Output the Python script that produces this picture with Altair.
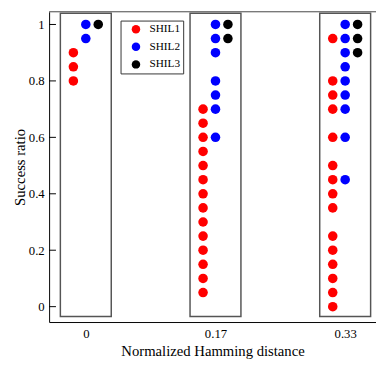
import altair as alt
import pandas as pd

categories = ["0", "0.17", "0.33"]
series_names = ["SHIL1", "SHIL2", "SHIL3"]
colors = ["#ff0000", "#0000ff", "#000000"]

# SHIL1 success ratios per Hamming distance
shil1_d0 = [0.9, 0.85, 0.8]
shil1_d017 = [0.7, 0.65, 0.6, 0.55, 0.5, 0.45, 0.4, 0.35, 0.3, 0.25, 0.2, 0.15, 0.1, 0.05]
shil1_d033 = [0.95, 0.8, 0.75, 0.7, 0.6, 0.5, 0.45, 0.4, 0.35, 0.25, 0.2, 0.15, 0.1, 0.05, 0.0]
# SHIL2
shil2_d0 = [1.0, 0.95]
shil2_d017 = [1.0, 0.95, 0.9, 0.8, 0.75, 0.7, 0.6]
shil2_d033 = [1.0, 0.95, 0.9, 0.85, 0.8, 0.75, 0.7, 0.6, 0.45]
# SHIL3
shil3_d0 = [1.0]
shil3_d017 = [1.0, 0.95]
shil3_d033 = [1.0, 0.95, 0.9]

y_ticks = [0, 0.2, 0.4, 0.6, 0.8, 1.0]

W, H = 334, 317
STEP = 132.5                 # pixels between groups
DOT_GAP = 12.7 / STEP        # series offset inside a group
BOX_HALF = 26 / STEP         # half width of the group boxes
series_offset = {"SHIL1": -DOT_GAP, "SHIL2": 0.0, "SHIL3": DOT_GAP}

groups = {
    "SHIL1": [shil1_d0, shil1_d017, shil1_d033],
    "SHIL2": [shil2_d0, shil2_d017, shil2_d033],
    "SHIL3": [shil3_d0, shil3_d017, shil3_d033],
}
rows = []
for s, lists in groups.items():
    for i, (cat, vals) in enumerate(zip(categories, lists)):
        for v in vals:
            rows.append({"cat": cat, "pos": i + series_offset[s], "series": s, "value": v})
df = pd.DataFrame(rows)

box_df = pd.DataFrame({
    "cat": categories,
    "x0": [i - BOX_HALF for i in range(len(categories))],
    "x1": [i + BOX_HALF for i in range(len(categories))],
    "lo": [-0.035] * len(categories),
    "hi": [1.04] * len(categories),
})

FONT = "Liberation Serif, DejaVu Serif, serif"

x0_dom = -37.5 / STEP
x_scale = alt.Scale(domain=[x0_dom, x0_dom + W / STEP], nice=False, zero=False)
y_scale = alt.Scale(domain=[-0.0545, 1.045], nice=False, zero=False)

label_expr = "[" + ",".join("'" + c + "'" for c in categories) + "][datum.value]"
x_axis = alt.Axis(values=list(range(len(categories))), labelExpr=label_expr,
                  labelAngle=0, ticks=False, grid=False, labelPadding=6,
                  title="Normalized Hamming distance", titlePadding=3,
                  domainColor="black", labelFont=FONT, labelFontSize=13,
                  titleFont=FONT, titleFontSize=15, titleFontWeight="normal",
                  labelColor="black", titleColor="black")
y_axis = alt.Axis(values=y_ticks, format="~g", ticks=False, grid=False,
                  labelPadding=5, title="Success ratio", titlePadding=1,
                  domainColor="black", labelFont=FONT, labelFontSize=13,
                  titleFont=FONT, titleFontSize=15, titleFontWeight="normal",
                  labelColor="black", titleColor="black")

top_line = alt.Chart(pd.DataFrame({"a": [0]})).mark_rule(
    color="#444", strokeWidth=1
).encode(x=alt.value(0), x2=alt.value(W), y=alt.value(0))

boxes = alt.Chart(box_df).mark_rect(
    fillOpacity=0, stroke="#555", strokeWidth=1.5
).encode(
    x=alt.X("x0:Q", scale=x_scale, axis=x_axis),
    x2="x1:Q",
    y=alt.Y("lo:Q", scale=y_scale, axis=y_axis),
    y2="hi:Q",
)

tick_marks = alt.Chart(pd.DataFrame({"t": y_ticks})).mark_rule(
    color="black", strokeWidth=1
).encode(
    y=alt.Y("t:Q", scale=y_scale, axis=y_axis),
    x=alt.value(0), x2=alt.value(7),
)

points = alt.Chart(df).mark_circle(size=95, opacity=1).encode(
    x=alt.X("pos:Q", scale=x_scale, axis=x_axis),
    y=alt.Y("value:Q", scale=y_scale, axis=y_axis),
    color=alt.Color("series:N", scale=alt.Scale(domain=series_names, range=colors),
                    legend=alt.Legend(title=None, orient="none", legendX=73, legendY=9,
                                      symbolType="circle", symbolSize=75,
                                      symbolStrokeWidth=0, labelFont=FONT,
                                      labelFontSize=11.5, labelColor="black",
                                      strokeColor="#333", padding=3, rowPadding=5,
                                      symbolOffset=7, labelOffset=8)),
)

chart = alt.layer(top_line, boxes, tick_marks, points).properties(
    width=W, height=H,
    padding={"left": 42, "top": 0, "right": 0, "bottom": 38},
    autosize=alt.AutoSizeParams(type="none"),
).configure_view(stroke=None)

chart.save("out.html", embed_options={"renderer": "svg", "actions": False})
